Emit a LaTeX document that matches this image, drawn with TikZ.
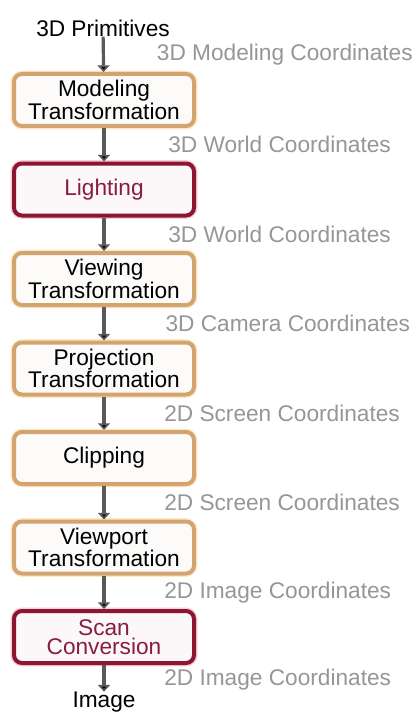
\documentclass[tikz,border=0pt]{standalone}
\usepackage{fontspec}
\setmainfont{Liberation Sans}
\usetikzlibrary{arrows.meta}

\definecolor{stageline}{RGB}{212,164,112}
\definecolor{stageglow}{RGB}{253,232,200}
\definecolor{stagefill}{RGB}{252,251,250}
\definecolor{keyline}{RGB}{138,22,48}
\definecolor{keyglow}{RGB}{250,205,215}
\definecolor{keyfill}{RGB}{252,247,249}
\definecolor{keytext}{RGB}{135,30,60}
\definecolor{coordtext}{RGB}{150,150,150}

\tikzset{
  stage/.style={draw=stageline, fill=stagefill, line width=3pt, rounded corners=6pt,
    minimum width=135pt, minimum height=39pt, inner sep=0pt, align=center,
    font=\fontsize{17}{14}\selectfont,
    preaction={draw=stageglow, line width=5pt, rounded corners=6pt}},
  keystage/.style={stage, draw=keyline, fill=keyfill, text=keytext,
    preaction={draw=keyglow, line width=5pt, rounded corners=6pt}},
  flow/.style={draw=black!65, line width=2.4pt, -{Triangle[length=5pt,width=9pt,fill=black]}},
  coordlabel/.style={anchor=west, text=coordtext, inner sep=0pt, font=\fontsize{17}{15}\selectfont},
  endlabel/.style={inner sep=0pt, font=\fontsize{17}{15}\selectfont}
}

\begin{document}
\begin{tikzpicture}[x=0.75pt,y=0.75pt,yscale=-1,xscale=1]
		\useasboundingbox (0,0) rectangle (417,713);
		
		% Pipeline end points
		\node [endlabel] (prim) at (103,28) {3D Primitives};
		\node [endlabel] (img) at (104,702) {Image};
		
		% Stages
		\node [stage] (model) at (104,100) {Modeling\\Transformation};
		\node [keystage] (light) at (104,189.5) {Lighting};
		\node [stage] (view) at (104,279) {Viewing\\Transformation};
		\node [stage] (proj) at (104,368.5) {Projection\\Transformation};
		\node [stage] (clip) at (104,458) {Clipping};
		\node [stage] (port) at (104,547.5) {Viewport\\Transformation};
		\node [keystage] (scan) at (104,637) {Scan\\Conversion};
		
		% Connectors with the coordinate systems
		\draw [flow] (prim) -- (model) node [coordlabel, midway, xshift=39pt] {3D Modeling Coordinates};
		\draw [flow] (model) -- (light) node [coordlabel, midway, xshift=47pt] {3D World Coordinates};
		\draw [flow] (light) -- (view) node [coordlabel, midway, xshift=47pt] {3D World Coordinates};
		\draw [flow] (view) -- (proj) node [coordlabel, midway, xshift=45pt] {3D Camera Coordinates};
		\draw [flow] (proj) -- (clip) node [coordlabel, midway, xshift=44pt] {2D Screen Coordinates};
		\draw [flow] (clip) -- (port) node [coordlabel, midway, xshift=44pt] {2D Screen Coordinates};
		\draw [flow] (port) -- (scan) node [coordlabel, midway, xshift=44pt] {2D Image Coordinates};
		\draw [flow] (scan) -- (img) node [coordlabel, midway, xshift=44pt, yshift=-1pt] {2D Image Coordinates};
	\end{tikzpicture}
\end{document}
